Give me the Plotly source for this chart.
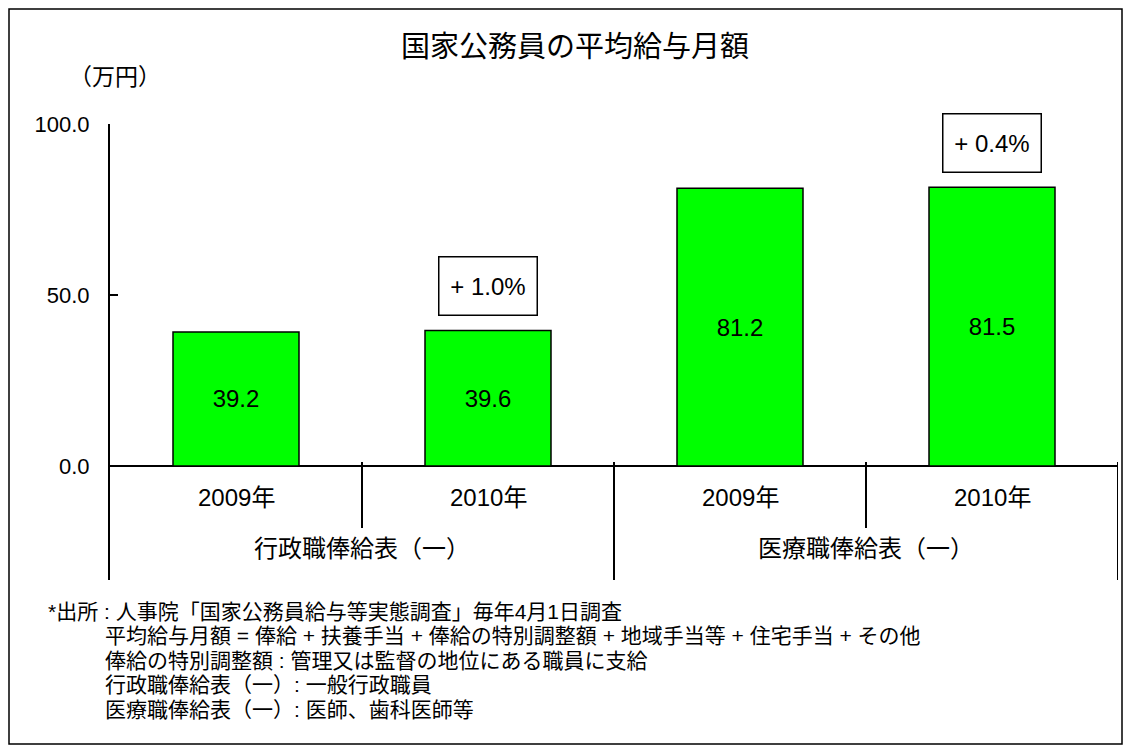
import plotly.graph_objects as go

# ---- data ----
years = ["2009年", "2010年", "2009年", "2010年"]
groups = ["行政職俸給表（一）", "医療職俸給表（一）"]
values = [39.2, 39.6, 81.2, 81.5]
value_labels = ["39.2", "39.6", "81.2", "81.5"]
change_labels = ["", "+ 1.0%", "", "+ 0.4%"]
y_tickvals = [0, 50, 100]
y_ticktext = ["0.0", "50.0", "100.0"]
title_text = "国家公務員の平均給与月額"
unit_text = "（万円）"
footnotes = [
    "*出所 : 人事院「国家公務員給与等実態調査」毎年4月1日調査",
    "平均給与月額 = 俸給 + 扶養手当 + 俸給の特別調整額 + 地域手当等 + 住宅手当 + その他",
    "俸給の特別調整額 : 管理又は監督の地位にある職員に支給",
    "行政職俸給表（一）: 一般行政職員",
    "医療職俸給表（一）: 医師、歯科医師等",
]

FONT = "Liberation Sans, Arial, Noto Sans CJK JP, sans-serif"
W, H = 1115, 737
L, R, T, B = 102, 5, 116, 165
PW, PH = W - L - R, H - T - B
YMIN, YMAX = -33.33, 100


def px_x(fx):
    return (fx - L) / PW


def px_y(fy):
    return (H - B - fy) / PH


def data_y(fy):
    # convert figure pixel y to data y
    return YMAX - (fy - T) / PH * (YMAX - YMIN)


xs = list(range(len(values)))

fig = go.Figure()
fig.add_trace(go.Bar(
    x=xs, y=values, text=value_labels, textposition="inside",
    insidetextanchor="middle", textangle=0,
    textfont=dict(size=24, color="black", family=FONT),
    marker=dict(color="#00FF00", line=dict(color="black", width=1.5)),
    width=0.5, hoverinfo="skip",
))

shapes = []
# full-figure frame
shapes.append(dict(type="rect", xref="paper", yref="paper",
                   x0=px_x(1), x1=px_x(W - 1), y0=px_y(H - 1), y1=px_y(1),
                   line=dict(color="black", width=1.5)))
# dividers
for xb, ybot in [(0.5, data_y(520)), (1.5, YMIN), (2.5, data_y(520)), (3.5, YMIN)]:
    shapes.append(dict(type="line", xref="x", yref="y", x0=xb, x1=xb,
                       y0=1.2, y1=ybot, line=dict(color="black", width=2)))

annotations = []
for i, yl in enumerate(years):
    annotations.append(dict(x=i, y=data_y(489), xref="x", yref="y", text=yl,
                            showarrow=False, font=dict(size=24, family=FONT, color="black")))
for gi, g in enumerate(groups):
    annotations.append(dict(x=0.5 + 2 * gi, y=data_y(540), xref="x", yref="y", text=g,
                            showarrow=False, font=dict(size=24, family=FONT, color="black")))
for i, c in enumerate(change_labels):
    if c:
        annotations.append(dict(x=i, y=values[i] + 13, xref="x", yref="y", text=c,
                                showarrow=False, font=dict(size=24, family=FONT, color="black"),
                                bordercolor="black", borderwidth=1.5, borderpad=0,
                                bgcolor="white", width=97, height=57))
annotations.append(dict(x=px_x(107), y=px_y(69), xref="paper", yref="paper", text=unit_text,
                        showarrow=False, xanchor="center", yanchor="middle",
                        font=dict(size=23, family=FONT, color="black")))
fy0 = 603
for k, line in enumerate(footnotes):
    fx = 38 if k == 0 else 95
    annotations.append(dict(x=px_x(fx), y=px_y(fy0 + k * 24.5), xref="paper", yref="paper",
                            text=line, showarrow=False, xanchor="left", yanchor="middle",
                            font=dict(size=21, family=FONT, color="black")))

fig.update_layout(
    width=W, height=H,
    margin=dict(l=L, r=R, t=T, b=B, pad=0),
    paper_bgcolor="white", plot_bgcolor="white",
    title=dict(text=title_text, x=567 / W, y=1 - 39 / H, xref="container", yref="container",
               xanchor="center", yanchor="middle",
               font=dict(size=29, family=FONT, color="black")),
    font=dict(family=FONT, color="black"),
    showlegend=False,
    bargap=0.5,
    shapes=shapes,
    annotations=annotations,
    xaxis=dict(range=[-0.5, 3.5], showticklabels=False, showgrid=False, zeroline=False,
               showline=False, ticks="", fixedrange=True),
    yaxis=dict(range=[YMIN, YMAX], tickvals=y_tickvals, ticktext=y_ticktext,
               showgrid=False, zeroline=True, zerolinecolor="black", zerolinewidth=2,
               showline=True, linecolor="black", linewidth=2,
               ticks="inside", ticklen=8, tickwidth=2, tickcolor="black",
               ticklabelstandoff=14,
               tickfont=dict(size=22, family=FONT, color="black"), fixedrange=True),
)

fig.write_html("out.html")
